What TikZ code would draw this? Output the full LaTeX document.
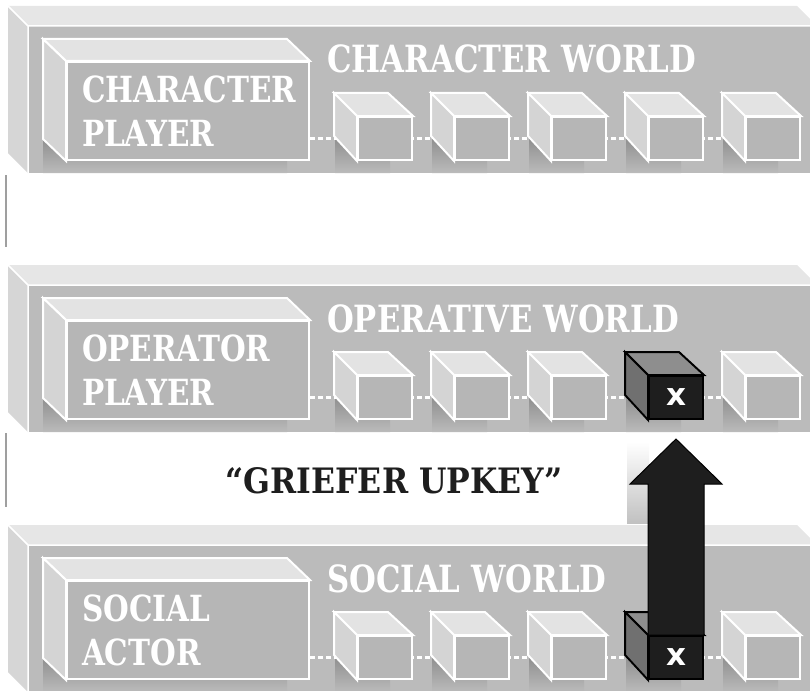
\documentclass[tikz,border=0pt]{standalone}
\usepackage{fontspec}
\usetikzlibrary{positioning, calc}
\newfontfamily\slabfont[FakeStretch=0.82]{DejaVu Serif}
\newfontfamily\keyfont[FakeStretch=0.9]{DejaVu Serif}
\newfontfamily\xfont{DejaVu Sans}
\definecolor{slabFront}{HTML}{BBBBBB}
\definecolor{slabTop}{HTML}{E6E6E6}
\definecolor{slabSide}{HTML}{D6D6D6}
\definecolor{boxFront}{HTML}{B6B6B6}
\definecolor{boxTop}{HTML}{E3E3E3}
\definecolor{boxSide}{HTML}{D4D4D4}
\definecolor{shadowGray}{HTML}{8E8E8E}
\definecolor{keyBlack}{HTML}{1E1E1E}
\definecolor{keySide}{HTML}{707070}
\definecolor{keyTop}{HTML}{8E8E8E}
\tikzset{
  slabedge/.style={draw=white, line width=1.5pt},
  playerbox/.style={rectangle, fill=boxFront, draw=white, line width=2pt,
                    minimum width=242pt, minimum height=98pt, inner xsep=15pt,
                    text width=212pt, align=left, text=white,
                    font=\slabfont\bfseries\fontsize{36}{44}\selectfont},
  worldlabel/.style={anchor=base west, inner sep=0pt, text=white,
                     font=\slabfont\bfseries\fontsize{37.5}{44}\selectfont},
  cubebox/.style={rectangle, fill=boxFront, draw=white, line width=2pt,
                  minimum width=54pt, minimum height=43pt, inner sep=0pt},
  keybox/.style={cubebox, fill=keyBlack, draw=black, text=white,
                 font=\xfont\bfseries\fontsize{31}{31}\selectfont},
  facewhite/.style={draw=white, line width=2pt},
  faceblack/.style={draw=black, line width=2pt},
  linkline/.style={draw=white, line width=2.5pt, dash pattern=on 5pt off 3pt},
  upkey/.style={fill=keyBlack, draw=black, line width=1pt},
  griefer/.style={anchor=base, inner sep=0pt, text=keyBlack,
                  font=\keyfont\bfseries\fontsize{35}{40}\selectfont},
}

\begin{document}
\begin{tikzpicture}[x=1pt, y=-1pt]
  \useasboundingbox (0,0) rectangle (810,690);
  \clip (0,0) rectangle (810,690);

  % three worlds, one slab each
  \foreach \sy/\world/\who/\k in {0/CHARACTER WORLD/CHARACTER\\PLAYER/1,
                                  259/OPERATIVE WORLD/OPERATOR\\PLAYER/2,
                                  519/SOCIAL WORLD/SOCIAL\\ACTOR/3} {
    \begin{scope}[shift={(0,\sy)}]
      \fill[slabTop] (8,6) -- (797,6) -- (817,26) -- (28,26) -- cycle;
      \fill[slabSide] (8,6) -- (28,26) -- (28,173) -- (8,153) -- cycle;
      \fill[slabFront] (28,26) rectangle (830,173);
      \draw[slabedge] (8,6) -- (28,26) -- (830,26) (28,26) -- (28,173);

      % player
      \shade[top color=shadowGray, bottom color=slabFront]
        (43,138) -- (67,160) -- (287,160) -- (287,173) -- (43,173) -- cycle;
      \node[playerbox] (box\k) at (188,111) {\who};
      \filldraw[boxTop, facewhite] (box\k.north west) -- ++(-23,-22)
        -- ($(box\k.north east)+(-23,-22)$) -- (box\k.north east) -- cycle;
      \filldraw[boxSide, facewhite] (box\k.north west) -- ++(-23,-22)
        -- ($(box\k.south west)+(-23,-22)$) -- (box\k.south west) -- cycle;

      \node[worldlabel] (world\k) at (327,73) {\world};

      % cubes
      \foreach \c in {1,...,5}
        \coordinate (p\k\c) at ({385+97*(\c-1)},138.5);
      \foreach \c in {1,...,5}
        \shade[top color=shadowGray, bottom color=slabFront]
          ($(p\k\c)+(-50,-1.5)$) -- ($(p\k\c)+(-27,21.5)$) -- ($(p\k\c)+(5,21.5)$)
          -- ($(p\k\c)+(5,34.5)$) -- ($(p\k\c)+(-50,34.5)$) -- cycle;
      \draw[linkline] (box\k.east |- p\k1) -- (p\k1);
      \foreach \c/\d in {1/2,2/3,3/4,4/5}
        \draw[linkline] (p\k\c) -- (p\k\d);
      \foreach \c in {1,...,5} {
        \node[cubebox] (c\k\c) at (p\k\c) {};
        \filldraw[boxTop, facewhite] (c\k\c.north west) -- ++(-23,-23) -- ++(54,0)
          -- (c\k\c.north east) -- cycle;
        \filldraw[boxSide, facewhite] (c\k\c.north west) -- ++(-23,-23) -- ++(0,43)
          -- (c\k\c.south west) -- cycle;
      }
    \end{scope}
  }

  % gaps
  \draw[gray!75, line width=2.5pt] (6,175) -- (6,247);
  \draw[gray!75, line width=2.5pt] (6,433) -- (6,507);

  % the upkey
  \node[keybox] (key2) at (c24) {x};
  \filldraw[keyTop, faceblack] (key2.north west) -- ++(-23,-23) -- ++(54,0)
    -- (key2.north east) -- cycle;
  \filldraw[keySide, faceblack] (key2.north west) -- ++(-23,-23) -- ++(0,43)
    -- (key2.south west) -- cycle;

  \node[keybox] (key3) at (c34) {x};
  \filldraw[keyTop, faceblack] (key3.north west) -- ++(-23,-23) -- ++(54,0)
    -- (key3.north east) -- cycle;
  \filldraw[keySide, faceblack] (key3.north west) -- ++(-23,-23) -- ++(0,43)
    -- (key3.south west) -- cycle;

  \shade[top color=white, bottom color=boxFront!85] (627,442) rectangle (649,523);
  \coordinate (tip) at ($(key2.south)+(0,19)$);
  \draw[upkey] (key3.north west) |- ($(tip)+(-46,45)$) -- (tip)
    -- ($(tip)+(46,45)$) -| (key3.north east) -- cycle;

  \node[griefer] (grief) at (394,493) {“GRIEFER UPKEY”};
\end{tikzpicture}
\end{document}
